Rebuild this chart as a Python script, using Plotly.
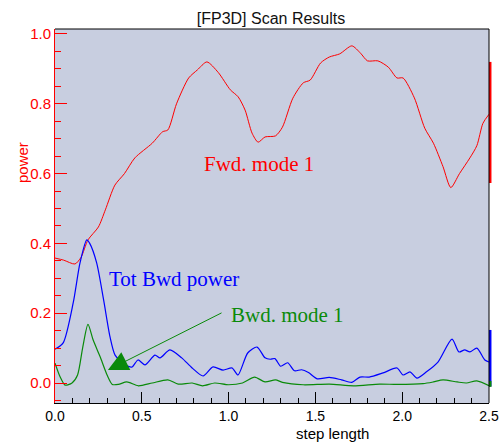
import plotly.graph_objects as go

# ---- data ----
x_fwd = [0.0, 0.05, 0.115, 0.15, 0.19, 0.25, 0.29, 0.345, 0.40, 0.46, 0.56, 0.62, 0.65, 0.70, 0.77,
         0.82, 0.875, 0.94, 1.01, 1.055, 1.095, 1.135, 1.17, 1.21, 1.27, 1.31, 1.37, 1.43, 1.47, 1.53,
         1.58, 1.64, 1.71, 1.76, 1.80, 1.86, 1.92, 1.97, 2.005, 2.07, 2.13, 2.18, 2.235, 2.28, 2.33,
         2.39, 2.43, 2.465, 2.5]
y_fwd = [0.358, 0.352, 0.341, 0.36, 0.41, 0.447, 0.496, 0.567, 0.60, 0.645, 0.687, 0.72, 0.725, 0.80,
         0.874, 0.897, 0.92, 0.89, 0.84, 0.82, 0.782, 0.716, 0.69, 0.705, 0.708, 0.733, 0.816, 0.86,
         0.868, 0.917, 0.934, 0.943, 0.966, 0.945, 0.923, 0.923, 0.905, 0.874, 0.874, 0.817, 0.73,
         0.687, 0.62, 0.56, 0.60, 0.645, 0.68, 0.744, 0.77]

x_tot = [0.0, 0.047, 0.105, 0.144, 0.183, 0.20, 0.24, 0.28, 0.317, 0.346, 0.403, 0.444, 0.478, 0.518,
         0.576, 0.605, 0.662, 0.73, 0.79, 0.853, 0.91, 0.968, 1.02, 1.054, 1.11, 1.164, 1.21, 1.24,
         1.267, 1.30, 1.34, 1.38, 1.42, 1.46, 1.51, 1.58, 1.65, 1.71, 1.757, 1.81, 1.89, 1.97, 2.005,
         2.045, 2.085, 2.14, 2.206, 2.287, 2.327, 2.36, 2.39, 2.43, 2.476, 2.5]
y_tot = [0.097, 0.115, 0.23, 0.344, 0.41, 0.40, 0.344, 0.238, 0.132, 0.08, 0.052, 0.046, 0.066, 0.052,
         0.08, 0.072, 0.095, 0.072, 0.043, 0.02, 0.046, 0.037, 0.043, 0.023, 0.086, 0.103, 0.072,
         0.068, 0.07, 0.048, 0.058, 0.035, 0.038, 0.03, 0.012, 0.016, 0.009, 0.002, 0.017, 0.017,
         0.029, 0.043, 0.023, 0.032, 0.014, 0.032, 0.06, 0.126, 0.089, 0.095, 0.089, 0.1, 0.066, 0.06]

x_bwd = [0.0, 0.03, 0.058, 0.098, 0.13, 0.16, 0.19, 0.22, 0.26, 0.30, 0.33, 0.365, 0.414, 0.48, 0.56,
         0.65, 0.71, 0.79, 0.85, 0.92, 1.0, 1.08, 1.15, 1.21, 1.27, 1.31, 1.43, 1.58, 1.72, 1.87,
         1.97, 2.12, 2.18, 2.235, 2.316, 2.37, 2.43, 2.5]
y_bwd = [0.057, 0.017, -0.006, 0.0, 0.023, 0.103, 0.168, 0.123, 0.075, 0.023, -0.004, -0.004, 0.003,
         -0.008, 0.0, 0.009, -0.003, 0.0, -0.008, 0.0, -0.005, 0.0, 0.017, 0.003, 0.009, 0.002,
         -0.005, -0.003, -0.008, -0.003, -0.004, -0.002, 0.003, 0.009, 0.003, 0.0, 0.006, -0.008]

# right-edge range bars (low, high)
range_fwd = [0.573, 0.92]
range_tot = [-0.01, 0.152]
range_bwd = [-0.011, 0.006]

x_ticks = [0.0, 0.5, 1.0, 1.5, 2.0, 2.5]
y_ticks = [0.0, 0.2, 0.4, 0.6, 0.8, 1.0]

RED = "#ff0000"
BLUE = "#0000ff"
GREEN = "#0a8a0a"

fig = go.Figure()
fig.add_trace(go.Scatter(x=x_fwd, y=y_fwd, mode="lines", line=dict(color=RED, width=1, shape="spline", smoothing=0.7), name="Fwd. mode 1"))
fig.add_trace(go.Scatter(x=x_tot, y=y_tot, mode="lines", line=dict(color=BLUE, width=1.2, shape="spline", smoothing=0.7), name="Tot Bwd power"))
fig.add_trace(go.Scatter(x=x_bwd, y=y_bwd, mode="lines", line=dict(color=GREEN, width=1.2, shape="spline", smoothing=0.7), name="Bwd. mode 1"))

for rng, col in [(range_fwd, RED), (range_tot, BLUE), (range_bwd, GREEN)]:
    fig.add_shape(type="line", xref="paper", yref="y", x0=1.0028, x1=1.0028, y0=rng[0], y1=rng[1],
                  line=dict(color=col, width=2.5))

# top and right frame
fig.add_shape(type="line", xref="paper", yref="paper", x0=0, x1=1, y0=1, y1=1, line=dict(color="black", width=1))
fig.add_shape(type="line", xref="paper", yref="paper", x0=1, x1=1, y0=0, y1=1, line=dict(color="black", width=1))

serif = "Liberation Serif"
fig.add_annotation(x=1.175, y=0.627, xref="x", yref="y", text="Fwd. mode 1", showarrow=False,
                   font=dict(family=serif, size=21, color=RED))
fig.add_annotation(x=0.685, y=0.297, xref="x", yref="y", text="Tot Bwd power", showarrow=False,
                   font=dict(family=serif, size=21, color=BLUE))
fig.add_annotation(x=1.34, y=0.195, xref="x", yref="y", text="Bwd. mode 1", showarrow=False,
                   font=dict(family=serif, size=21, color=GREEN))
fig.add_annotation(x=0.305, y=0.037, xref="x", yref="y", ax=0.968, ay=0.203, axref="x", ayref="y",
                   text="", showarrow=True, arrowhead=2, arrowsize=4, arrowwidth=1, arrowcolor=GREEN)

# axis titles
fig.add_annotation(x=(332 - 55) / 434, y=(403 - 433) / 374, xref="paper", yref="paper", text="step length",
                   xanchor="center", yanchor="middle",
                   showarrow=False, font=dict(family="Liberation Sans", size=15, color="black"))
fig.add_annotation(x=(22 - 55) / 434, y=(403 - 163) / 374, xref="paper", yref="paper", text="power",
                   xanchor="center", yanchor="middle",
                   showarrow=False, textangle=-90, font=dict(family="Liberation Sans", size=15, color=RED))

fig.update_layout(
    width=504, height=442,
    margin=dict(l=55, r=15, t=29, b=39, autoexpand=False),
    paper_bgcolor="white",
    plot_bgcolor="rgb(200,206,224)",
    showlegend=False,
    title=dict(text="[FP3D] Scan Results", x=(271 - 55) / 434, xref="paper", y=1 - 18 / 442, yref="container",
               xanchor="center", yanchor="middle", font=dict(family="Liberation Sans", size=16, color="#111111")),
    xaxis=dict(range=[0, 2.5], tickvals=x_ticks, ticktext=[f"{v:.1f}" for v in x_ticks], automargin=False,
               ticks="inside", ticklen=11, tickcolor="black", tickwidth=1, ticklabelstandoff=0,
               minor=dict(ticks="inside", ticklen=5, dtick=0.1, tickcolor="black", tickwidth=1, showgrid=False),
               showline=True, linecolor="black", linewidth=1, showgrid=False, zeroline=False,
               tickfont=dict(family="Liberation Sans", size=14, color="black")),
    yaxis=dict(range=[-0.0573, 1.0143], tickvals=y_ticks, ticktext=[f"{v:.1f}" for v in y_ticks], automargin=False,
               ticks="inside", ticklen=12, tickcolor=RED, tickwidth=1,
               minor=dict(ticks="inside", ticklen=6, dtick=0.05, tickcolor=RED, tickwidth=1, showgrid=False),
               showline=True, linecolor=RED, linewidth=1, showgrid=False, zeroline=False,
               tickfont=dict(family="Liberation Sans", size=15, color=RED)),
)

fig.write_html("out.html", config={"displayModeBar": False},
               post_script="document.body.style.margin='0px';document.body.style.padding='0px';")
